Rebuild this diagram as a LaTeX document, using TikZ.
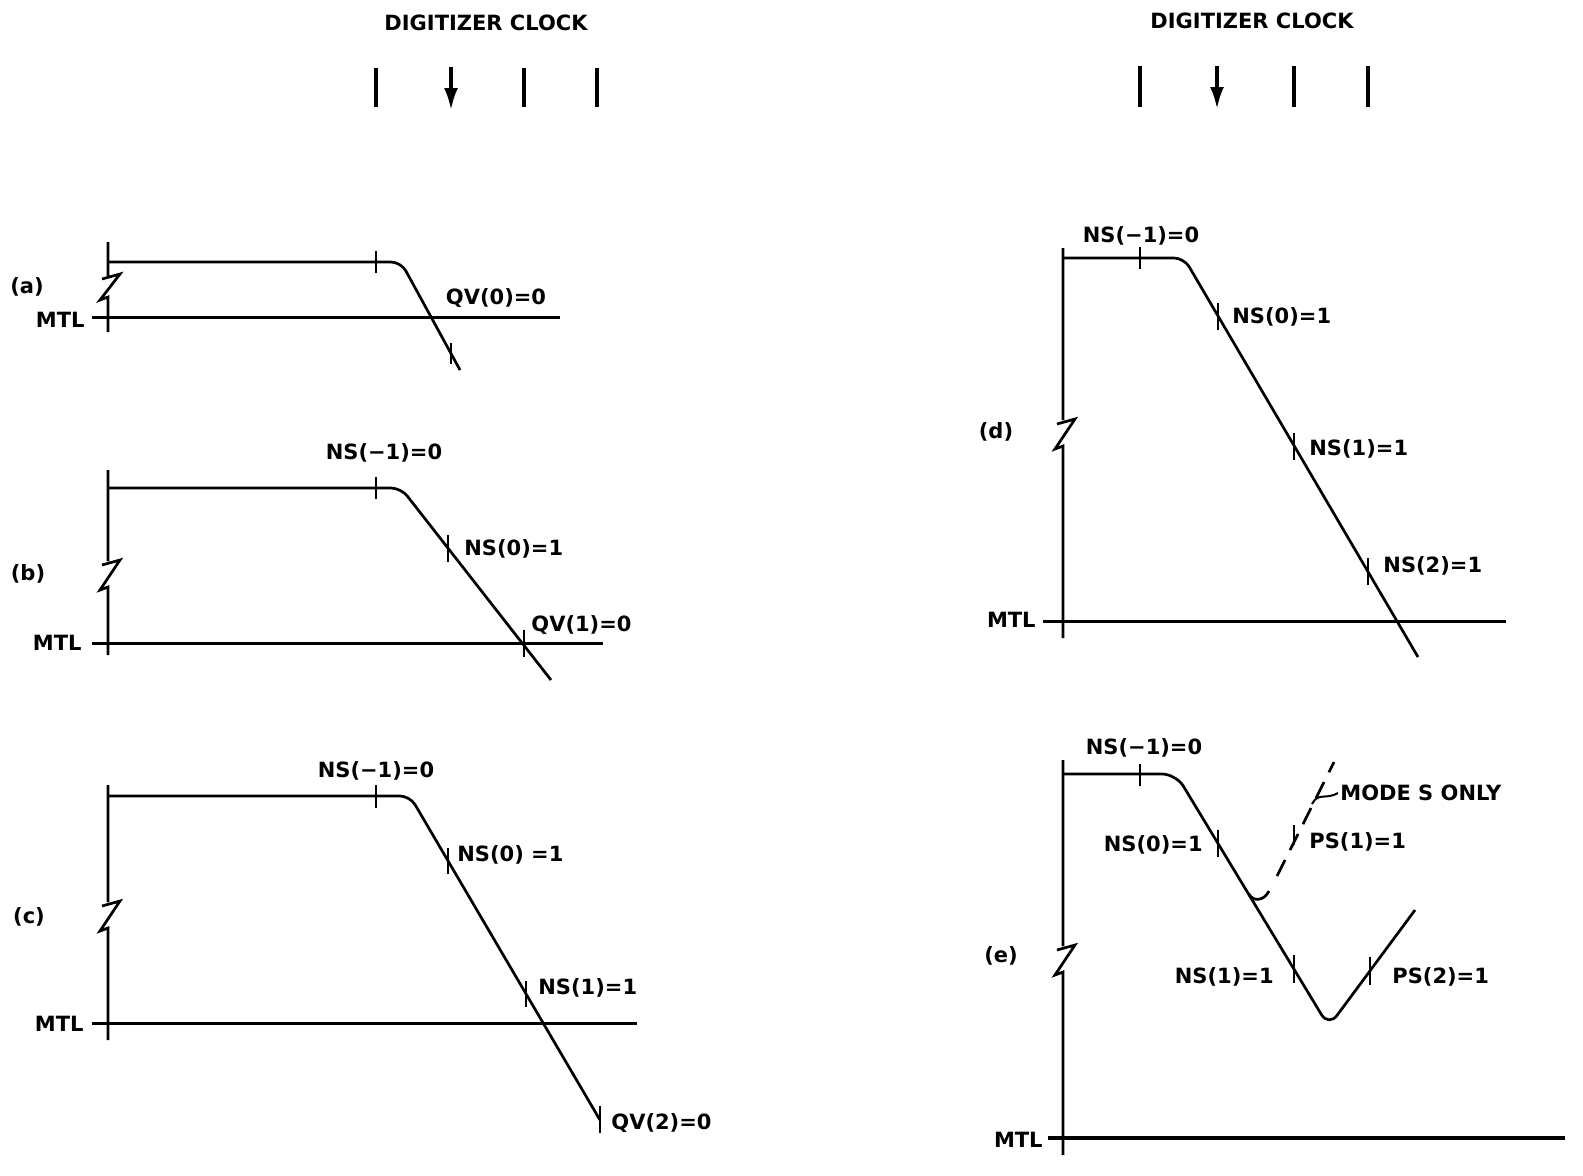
\documentclass[tikz,border=0pt]{standalone}
\usepackage{fontspec}
\setmainfont{DejaVu Sans}
\usetikzlibrary{arrows.meta}
\newcommand{\lbl}{\bfseries\fontsize{10.5}{12}\selectfont}

\begin{document}
\begin{tikzpicture}[x=0.5pt,y=-0.5pt]
        \tikzstyle{every node}=[font=\lbl, inner sep=0pt]
        \tikzstyle{wave}=[line width=1.35pt, rounded corners=5pt]
        \tikzstyle{axis}=[line width=1.35pt]
        \tikzstyle{mtl}=[line width=1.5pt]
        \tikzstyle{tick}=[line width=1.2pt]
        \tikzstyle{clk}=[line width=1.7pt]
        \useasboundingbox (0,0) rectangle (1583,1175);

        \node (clkl) at (486,23) {DIGITIZER CLOCK};
        \draw [clk] (376,68) -- (376,107);
        \draw [clk, ->, >={Latex[length=11pt,width=7pt]}] (451,67) -- (451,110);
        \draw [clk] (524,68) -- (524,107);
        \draw [clk] (597,68) -- (597,107);
        \node (clkr) at (1252,21) {DIGITIZER CLOCK};
        \draw [clk] (1140,66) -- (1140,107);
        \draw [clk, ->, >={Latex[length=11pt,width=7pt]}] (1217,66) -- (1217,109);
        \draw [clk] (1294,66) -- (1294,107);
        \draw [clk] (1368,66) -- (1368,107);

        \node (la) at (27,287) {(a)};
        \node [anchor=east] (mtla) at (85,320) {MTL};
        \draw [axis] (108,242) -- (108,276) (102,279) -- (120,274) -- (100,300) -- (108,297) -- (108,332);
        \draw [mtl] (92,317) -- (560,317);
        \draw [wave] (108,262) -- (401,262) -- (460,370);
        \draw [tick] (376,251) -- (376,273);
        \draw [tick] (451,343) -- (451,364);
        \node (qva) at (496,298) {QV(0)=0};

        \node (lb) at (28,574) {(b)};
        \node [anchor=east] (mtlb) at (82,643) {MTL};
        \draw [axis] (108,470) -- (108,561) (102,565) -- (120,560) -- (100,590) -- (108,587) -- (108,655);
        \draw [mtl] (92,643) -- (603,643);
        \draw [wave] (108,488) -- (401,488) -- (551,680);
        \draw [tick] (376,477) -- (376,499);
        \draw [tick] (448,535) -- (448,562);
        \draw [tick] (524,630) -- (524,657);
        \node (nsbm) at (384,453) {NS(−1)=0};
        \node [anchor=west] (nsb0) at (464,549) {NS(0)=1};
        \node [anchor=west] (qvb) at (531,625) {QV(1)=0};

        \node (lc) at (29,917) {(c)};
        \node [anchor=east] (mtlc) at (84,1024) {MTL};
        \draw [axis] (108,785) -- (108,902) (102,906) -- (120,901) -- (100,931) -- (108,928) -- (108,1040);
        \draw [mtl] (92,1023) -- (637,1023);
        \draw [wave] (108,796) -- (410,796) -- (600,1120);
        \draw [tick] (376,785) -- (376,808);
        \draw [tick] (448,848) -- (448,874);
        \draw [tick] (526,981) -- (526,1007);
        \draw [tick] (600,1106) -- (600,1133);
        \node (nscm) at (376,771) {NS(−1)=0};
        \node [anchor=west] (nsc0) at (457,855) {NS(0) =1};
        \node [anchor=west] (nsc1) at (538,988) {NS(1)=1};
        \node [anchor=west] (qvc) at (611,1123) {QV(2)=0};

        \node (ld) at (996,432) {(d)};
        \node [anchor=east] (mtld) at (1036,620) {MTL};
        \draw [axis] (1063,248) -- (1063,420) (1057,424) -- (1075,419) -- (1055,449) -- (1063,446) -- (1063,638);
        \draw [mtl] (1043,621) -- (1506,621);
        \draw [wave] (1063,258) -- (1184,258) -- (1418,657);
        \draw [tick] (1140,247) -- (1140,269);
        \draw [tick] (1218,303) -- (1218,330);
        \draw [tick] (1294,433) -- (1294,460);
        \draw [tick] (1368,558) -- (1368,585);
        \node (nsdm) at (1141,236) {NS(−1)=0};
        \node [anchor=west] (nsd0) at (1232,317) {NS(0)=1};
        \node [anchor=west] (nsd1) at (1309,449) {NS(1)=1};
        \node [anchor=west] (nsd2) at (1383,566) {NS(2)=1};

        \node (le) at (1001,956) {(e)};
        \node [anchor=east] (mtle) at (1043,1140) {MTL};
        \draw [axis] (1063,760) -- (1063,946) (1057,950) -- (1075,945) -- (1055,975) -- (1063,972) -- (1063,1155);
        \draw [mtl, line width=2.1pt] (1048,1138) -- (1565,1138);
        \draw [wave, rounded corners=7pt] (1063,774) -- (1176,774) -- (1328.7,1026.6) -- (1415,910);
        \draw [line width=1.35pt] (1249,894) .. controls (1253,902) and (1264,901) .. (1269,891);
        \draw [line width=1.35pt, dash pattern=on 9pt off 5.5pt] (1277,876) -- (1334,762);
        \draw [tick] (1140,764) -- (1140,786);
        \draw [tick] (1218,830) -- (1218,857);
        \draw [tick] (1294,955) -- (1294,983);
        \draw [tick] (1370,957) -- (1370,985);
        \draw [tick] (1294,825) -- (1294,845);
        \node (nsem) at (1144,748) {NS(−1)=0};
        \node [anchor=east] (nse0) at (1203,845) {NS(0)=1};
        \node [anchor=east] (nse1) at (1274,977) {NS(1)=1};
        \node [anchor=west] (pse1) at (1309,842) {PS(1)=1};
        \node [anchor=west] (pse2) at (1392,977) {PS(2)=1};
        \node [anchor=west] (modes) at (1340,793) {MODE S ONLY};
        \coordinate (lead) at (1312,804);
        \draw [line width=1pt] (lead) .. controls (1318,792) and (1326,800) .. ([xshift=-1pt]modes.west);
\end{tikzpicture}
\end{document}
